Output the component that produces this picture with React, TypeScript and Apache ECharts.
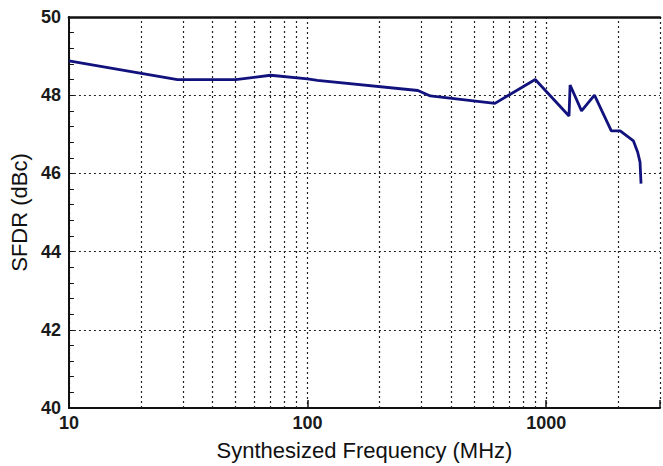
import React, { useEffect, useRef } from "react";
import * as echarts from "echarts";

const freqMHz = [10, 28.5, 50, 70, 100, 110, 290, 327, 610, 900, 1247, 1260, 1407, 1594, 1875, 2043, 2322, 2419, 2474, 2498];
const sfdrDbc = [48.88, 48.4, 48.4, 48.51, 48.42, 48.38, 48.12, 47.98, 47.79, 48.4, 47.47, 48.26, 47.6, 48.0, 47.09, 47.09, 46.83, 46.54, 46.29, 45.74];
const minorGridFreqs = [20, 30, 40, 50, 60, 70, 80, 90, 200, 300, 400, 500, 600, 700, 800, 900, 2000];
const yTicks = [40, 42, 44, 46, 48, 50];

const FONT = "Liberation Sans, Arial, Helvetica, sans-serif";
const GRID_COLOR = "#222";
const DASH = [2, 3];

export default function App() {
  const ref = useRef<HTMLDivElement>(null);
  useEffect(() => {
    if (!ref.current) return;
    const chart = echarts.init(ref.current, null, { renderer: "svg" });
    const data = freqMHz.map((f, i) => [f, sfdrDbc[i]]);
    chart.setOption({
      animation: false,
      backgroundColor: "#fff",
      grid: { left: 67, right: 0, top: 17, bottom: 55, containLabel: false },
      xAxis: [
        {
          type: "log",
          logBase: 10,
          min: 10,
          max: 3000,
          position: "bottom",
          name: "Synthesized Frequency (MHz)",
          nameLocation: "middle",
          nameGap: 31,
          nameTextStyle: { fontFamily: FONT, fontSize: 22, color: "#111" },
          axisLine: { show: true, onZero: false, lineStyle: { color: "#111", width: 2 } },
          axisTick: { show: true, inside: true, length: 8, lineStyle: { color: "#111", width: 1.5 } },
          axisLabel: {
            fontFamily: FONT,
            fontSize: 18,
            fontWeight: "bold",
            color: "#1a1a1a",
            margin: 6,
            formatter: (v: number) => ([10, 100, 1000].includes(Math.round(v)) ? String(Math.round(v)) : ""),
          },
          splitLine: { show: true, lineStyle: { color: GRID_COLOR, width: 1.2, type: DASH } },
        },
        {
          type: "log",
          logBase: 10,
          min: 10,
          max: 3000,
          position: "top",
          axisLine: { show: true, lineStyle: { color: "#111", width: 2.5 } },
          axisTick: { show: false },
          axisLabel: { show: false },
          splitLine: { show: false },
        },
      ],
      yAxis: {
        type: "value",
        min: yTicks[0],
        max: yTicks[yTicks.length - 1],
        interval: 2,
        name: "SFDR (dBc)",
        nameLocation: "middle",
        nameGap: 37,
        nameTextStyle: { fontFamily: FONT, fontSize: 22, color: "#111" },
        axisLine: { show: true, lineStyle: { color: "#111", width: 2 } },
        axisTick: { show: true, inside: true, length: 5, lineStyle: { color: "#111", width: 1 } },
        minorTick: { show: true, splitNumber: 5, length: 5, lineStyle: { color: "#111", width: 1 } },
        axisLabel: { fontFamily: FONT, fontSize: 18, fontWeight: "bold", color: "#1a1a1a", margin: 8 },
        splitLine: { show: true, lineStyle: { color: GRID_COLOR, width: 1.2, type: DASH } },
      },
      series: [
        {
          type: "line",
          xAxisIndex: 0,
          data,
          showSymbol: false,
          symbol: "none",
          lineStyle: { color: "#12127e", width: 2.8 },
          z: 5,
          markLine: {
            silent: true,
            symbol: "none",
            label: { show: false },
            lineStyle: { color: GRID_COLOR, width: 1.2, type: DASH },
            data: minorGridFreqs.map((f) => ({ xAxis: f })),
            z: 1,
          },
        },
      ],
    });
    return () => chart.dispose();
  }, []);
  return <div ref={ref} style={{ position: "absolute", left: 0, top: 0, width: 663, height: 466 }} />;
}
